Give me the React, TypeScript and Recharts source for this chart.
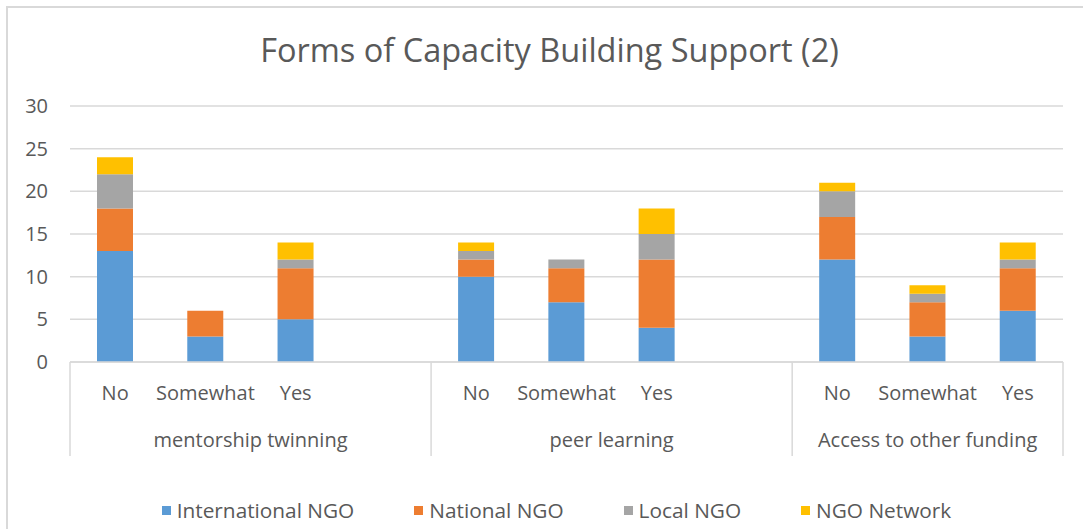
import React from 'react';
import { BarChart, Bar, XAxis, YAxis, CartesianGrid } from 'recharts';

const groups = ['mentorship twinning', 'peer learning', 'Access to other funding'];
const groupSizes = [4, 4, 3];
const subLabels = ['No', 'Somewhat', 'Yes', '', 'No', 'Somewhat', 'Yes', '', 'No', 'Somewhat', 'Yes'];
const internationalNGO = [13, 3, 5, null, 10, 7, 4, null, 12, 3, 6];
const nationalNGO = [5, 3, 6, null, 2, 4, 8, null, 5, 4, 5];
const localNGO = [4, 0, 1, null, 1, 1, 3, null, 3, 1, 1];
const ngoNetwork = [2, 0, 2, null, 1, 0, 3, null, 1, 1, 2];
const yTicks = [0, 5, 10, 15, 20, 25, 30];

const seriesNames = ['International NGO', 'National NGO', 'Local NGO', 'NGO Network'];
const seriesKeys = ['intl', 'natl', 'local', 'network'];
const seriesColors = ['#5B9BD5', '#ED7D31', '#A5A5A5', '#FFC000'];

const groupOf: number[] = [];
const groupStart: boolean[] = [];
groupSizes.forEach((n, g) => {
  for (let i = 0; i < n; i++) {
    groupOf.push(g);
    groupStart.push(i === 0);
  }
});

const data = subLabels.map((s, i) => ({
  key: 'c' + i,
  sub: s,
  intl: internationalNGO[i],
  natl: nationalNGO[i],
  local: localNGO[i],
  network: ngoNetwork[i],
}));

const W = 1083;
const H = 529;
const M = { top: 106, right: 20, left: 0, bottom: 72 };
const YW = 70;
const XH = 95;
const FONT = '"Open Sans", sans-serif';
const TXT = '#595959';
const LINE = '#d9d9d9';
const BAND = (W - M.left - M.right - YW) / data.length;

const XTick = (props: any) => {
  const { x, y, payload, index } = props;
  const i = typeof index === 'number' ? index : payload.index;
  const half = payload && payload.offset ? payload.offset : BAND / 2;
  const g = groupOf[i];
  const isStart = groupStart[i];
  const isLast = i === data.length - 1;
  return (
    <g>
      <text x={x} y={y + 38} textAnchor="middle" fill={TXT} fontSize={20} fontFamily={FONT}>
        {subLabels[i]}
      </text>
      {isStart && (
        <line x1={x - half} x2={x - half} y1={y} y2={y + XH - 1} stroke={LINE} strokeWidth={1.5} />
      )}
      {isStart && (
        <text
          x={x - half + groupSizes[g] * half}
          y={y + 85}
          textAnchor="middle"
          fill={TXT}
          fontSize={20}
          fontFamily={FONT}
        >
          {groups[g]}
        </text>
      )}
      {isLast && (
        <line x1={x + half} x2={x + half} y1={y} y2={y + XH - 1} stroke={LINE} strokeWidth={1.5} />
      )}
    </g>
  );
};

export default function App() {
  return (
    <div style={{ position: 'absolute', left: 0, top: 0, width: W, height: H, background: '#fff', overflow: 'hidden' }}>
      <div
        style={{
          position: 'absolute',
          left: 6,
          top: 6,
          width: W,
          height: H,
          borderLeft: `2px solid ${LINE}`,
          borderTop: `2px solid ${LINE}`,
        }}
      />
      <div
        style={{
          position: 'absolute',
          left: 0,
          top: 28,
          width: 1099,
          textAlign: 'center',
          fontFamily: FONT,
          fontSize: 32.5,
          color: TXT,
          lineHeight: '44px',
        }}
      >
        Forms of Capacity Building Support (2)
      </div>
      <div style={{ position: 'absolute', left: 0, top: 0 }}>
        <BarChart width={W} height={H} data={data} margin={M} barSize={36}>
          <CartesianGrid vertical={false} stroke={LINE} strokeWidth={1.5} />
          <XAxis
            dataKey="key"
            interval={0}
            height={XH}
            tickLine={false}
            tickSize={0}
            tickMargin={0}
            axisLine={{ stroke: LINE, strokeWidth: 1.5 }}
            tick={<XTick />}
          />
          <YAxis
            width={YW}
            domain={[0, 30]}
            ticks={yTicks}
            tickLine={false}
            axisLine={false}
            tickSize={0}
            tickMargin={22}
            tick={{ fill: TXT, fontSize: 20, fontFamily: FONT }}
          />
          {seriesKeys.map((k, i) => (
            <Bar key={k} dataKey={k} stackId="a" fill={seriesColors[i]} isAnimationActive={false} />
          ))}
        </BarChart>
      </div>
      <div
        style={{
          position: 'absolute',
          left: 0,
          top: 496,
          width: 1113,
          display: 'flex',
          justifyContent: 'center',
          fontFamily: FONT,
          fontSize: 20.8,
          color: TXT,
        }}
      >
        {seriesNames.map((n, i) => (
          <div key={n} style={{ display: 'flex', alignItems: 'center', marginRight: i < 3 ? 60 : 0 }}>
            <span style={{ display: 'inline-block', width: 9, height: 9, background: seriesColors[i], marginRight: 6 }} />
            <span>{n}</span>
          </div>
        ))}
      </div>
    </div>
  );
}
